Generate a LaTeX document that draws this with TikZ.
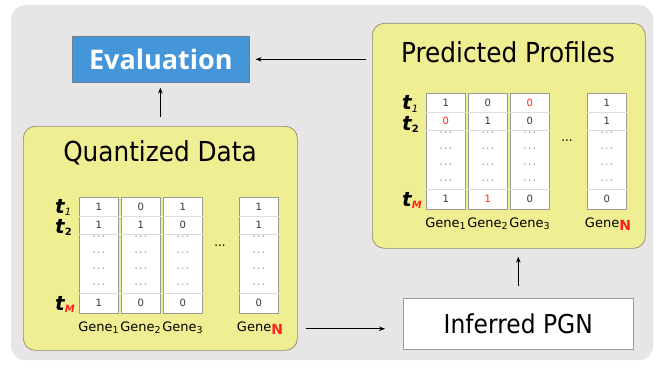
\documentclass[tikz,border=0pt]{standalone}
\usepackage{fontspec}
\setmainfont{DejaVu Sans}[FakeStretch=0.9]
\newfontfamily\evalfont{Open Sans}
\newfontfamily\tfont{DejaVu Sans}
\usetikzlibrary{arrows.meta}
\definecolor{bggray}{HTML}{E6E6E6}
\definecolor{panelfill}{HTML}{F0EE92}
\definecolor{panelborder}{HTML}{8A8A70}
\definecolor{evalblue}{HTML}{4595D9}
\definecolor{evalborder}{HTML}{6A7F95}
\definecolor{colborder}{HTML}{9A9A9A}
\definecolor{sepgray}{HTML}{DDDDDD}
\definecolor{celltext}{HTML}{333333}
\definecolor{redtxt}{HTML}{FF2020}
\newcommand\tlab[1]{{\tfont\fontsize{20}{20}\selectfont\bfseries\itshape t}\raisebox{-2pt}{\tfont\fontsize{10}{10}\selectfont #1}}
\newcommand\glab[1]{Gene\raisebox{-2.5pt}{\fontsize{9.5}{9.5}\selectfont #1}}
\newcommand\dotsrow{\fontsize{8}{8}\selectfont ·\hspace{2pt}·\hspace{2pt}·}
\newcommand\genetable[4]{%
  \foreach \cx/\va/\vb/\vc [count=\i] in {#4} {
    \node[colbox, anchor=north west] (#3\i) at (#1+\cx, #2) {};
    \draw[sep] ([yshift=-19pt]#3\i.north west) -- ([yshift=-19pt]#3\i.north east);
    \draw[sep] ([yshift=-37pt]#3\i.north west) -- ([yshift=-37pt]#3\i.north east);
    \draw[sep] ([yshift=-96pt]#3\i.north west) -- ([yshift=-96pt]#3\i.north east);
    \node[cell] at ([yshift=-9.5pt]#3\i.north) {\va};
    \node[cell] at ([yshift=-28pt]#3\i.north) {\vb};
    \node[cell] at ([yshift=-41pt]#3\i.north) {\dotsrow};
    \node[cell] at ([yshift=-57pt]#3\i.north) {\dotsrow};
    \node[cell] at ([yshift=-73pt]#3\i.north) {\dotsrow};
    \node[cell] at ([yshift=-89pt]#3\i.north) {\dotsrow};
    \node[cell] at ([yshift=-106pt]#3\i.north) {\vc};
  }%
}
\begin{document}
\begin{tikzpicture}[x=1pt,y=-1pt,
  arr/.style={-{Stealth[length=6pt,width=4.5pt]}, line width=0.8pt, black},
  panel/.style={draw=panelborder, fill=panelfill, rounded corners=12pt, line width=0.7pt, anchor=north west, inner sep=0pt},
  colbox/.style={draw=colborder, fill=white, minimum width=39pt, minimum height=116pt, inner sep=0pt, line width=0.6pt},
  sep/.style={draw=sepgray, line width=0.6pt},
  cell/.style={inner sep=0pt, font=\tfont\fontsize{10}{10}\selectfont, text=celltext},
  title/.style={inner sep=0pt, font=\fontsize{27.5}{27.5}\selectfont},
  genel/.style={inner sep=0pt, anchor=base, font=\tfont\fontsize{13}{13}\selectfont},
  tl/.style={inner sep=0pt, anchor=base west},
  ell/.style={inner sep=0pt, anchor=base, font=\fontsize{13}{13}\selectfont}]
\useasboundingbox (0,0) rectangle (659,369);
\fill[white] (0,0) rectangle (659,369);
\node[fill=bggray, rounded corners=14pt, minimum width=642pt, minimum height=355pt, anchor=north west, inner sep=0pt] (bg) at (11,5) {};
% Evaluation
\node[draw=evalborder, fill=evalblue, minimum width=177pt, minimum height=46pt, anchor=north west, inner sep=0pt, line width=0.6pt] (eval) at (72,36) {};
\node[text=white, inner sep=0pt, font=\evalfont\bfseries\fontsize{27}{27}\selectfont] (evaltxt) at (eval.center) {Evaluation};
% Quantized data panel
\node[panel, minimum width=274pt, minimum height=224pt] (qd) at (23,126) {};
\node[title] (qdt) at (160,153) {Quantized Data};
\genetable{79}{197}{q}{0/1/1/1, 42/0/1/0, 84/1/0/0, 160/1/1/0}
\node[tl] (qt1) at (55,213) {\tlab{\itshape 1}};
\node[tl] (qt2) at (55,233) {\tlab{\bfseries 2}};
\node[tl] (qtm) at (55,310) {\tlab{\color{redtxt}\bfseries\itshape M}};
\node[genel] (qg1) at (98.5,331) {\glab{1}};
\node[genel] (qg2) at (140.5,331) {\glab{2}};
\node[genel] (qg3) at (182.5,331) {\glab{3}};
\node[genel] (qgn) at (260,331) {Gene\raisebox{-3pt}{\bfseries\fontsize{14}{14}\selectfont\color{redtxt}N}};
\node[ell] (qell) at (220,246) {...};
% Predicted profiles panel
\node[panel, minimum width=273pt, minimum height=225pt] (pp) at (372,23) {};
\node[title] (ppt) at (508,52) {Predicted Profiles};
\genetable{426}{93}{p}{0/1/{\color{redtxt}0}/1, 42/0/1/{\color{redtxt}1}, 84/{\color{redtxt}0}/0/0, 161/1/1/0}
\node[tl] (pt1) at (402,110) {\tlab{\itshape 1}};
\node[tl] (pt2) at (402,130) {\tlab{\bfseries 2}};
\node[tl] (ptm) at (402,206) {\tlab{\color{redtxt}\bfseries\itshape M}};
\node[genel] (pg1) at (445.5,227) {\glab{1}};
\node[genel] (pg2) at (487.5,227) {\glab{2}};
\node[genel] (pg3) at (529.5,227) {\glab{3}};
\node[genel] (pgn) at (608,227) {Gene\raisebox{-3pt}{\bfseries\fontsize{14}{14}\selectfont\color{redtxt}N}};
\node[ell] (pell) at (567,141) {...};
% Inferred PGN
\node[draw=colborder, fill=white, minimum width=230pt, minimum height=51pt, anchor=north west, inner sep=0pt, line width=0.6pt] (ipgn) at (403,298) {};
\node[inner sep=0pt, font=\fontsize{26}{26}\selectfont] (ipgntxt) at (ipgn.center) {Inferred PGN};
% arrows
\draw[arr, shorten <=6pt, shorten >=6pt] (eval.east -| pp.west) -- (eval.east);
\draw[arr, shorten <=9pt, shorten >=5pt] (qd.north) -- (qd.north |- eval.south);
\draw[arr, shorten <=8pt, shorten >=18pt] ([yshift=-5pt]ipgn.west -| qd.east) -- ([yshift=-5pt]ipgn.west);
\draw[arr, shorten <=12pt, shorten >=8pt] (ipgn.north) -- (ipgn.north |- pp.south);
\end{tikzpicture}
\end{document}
